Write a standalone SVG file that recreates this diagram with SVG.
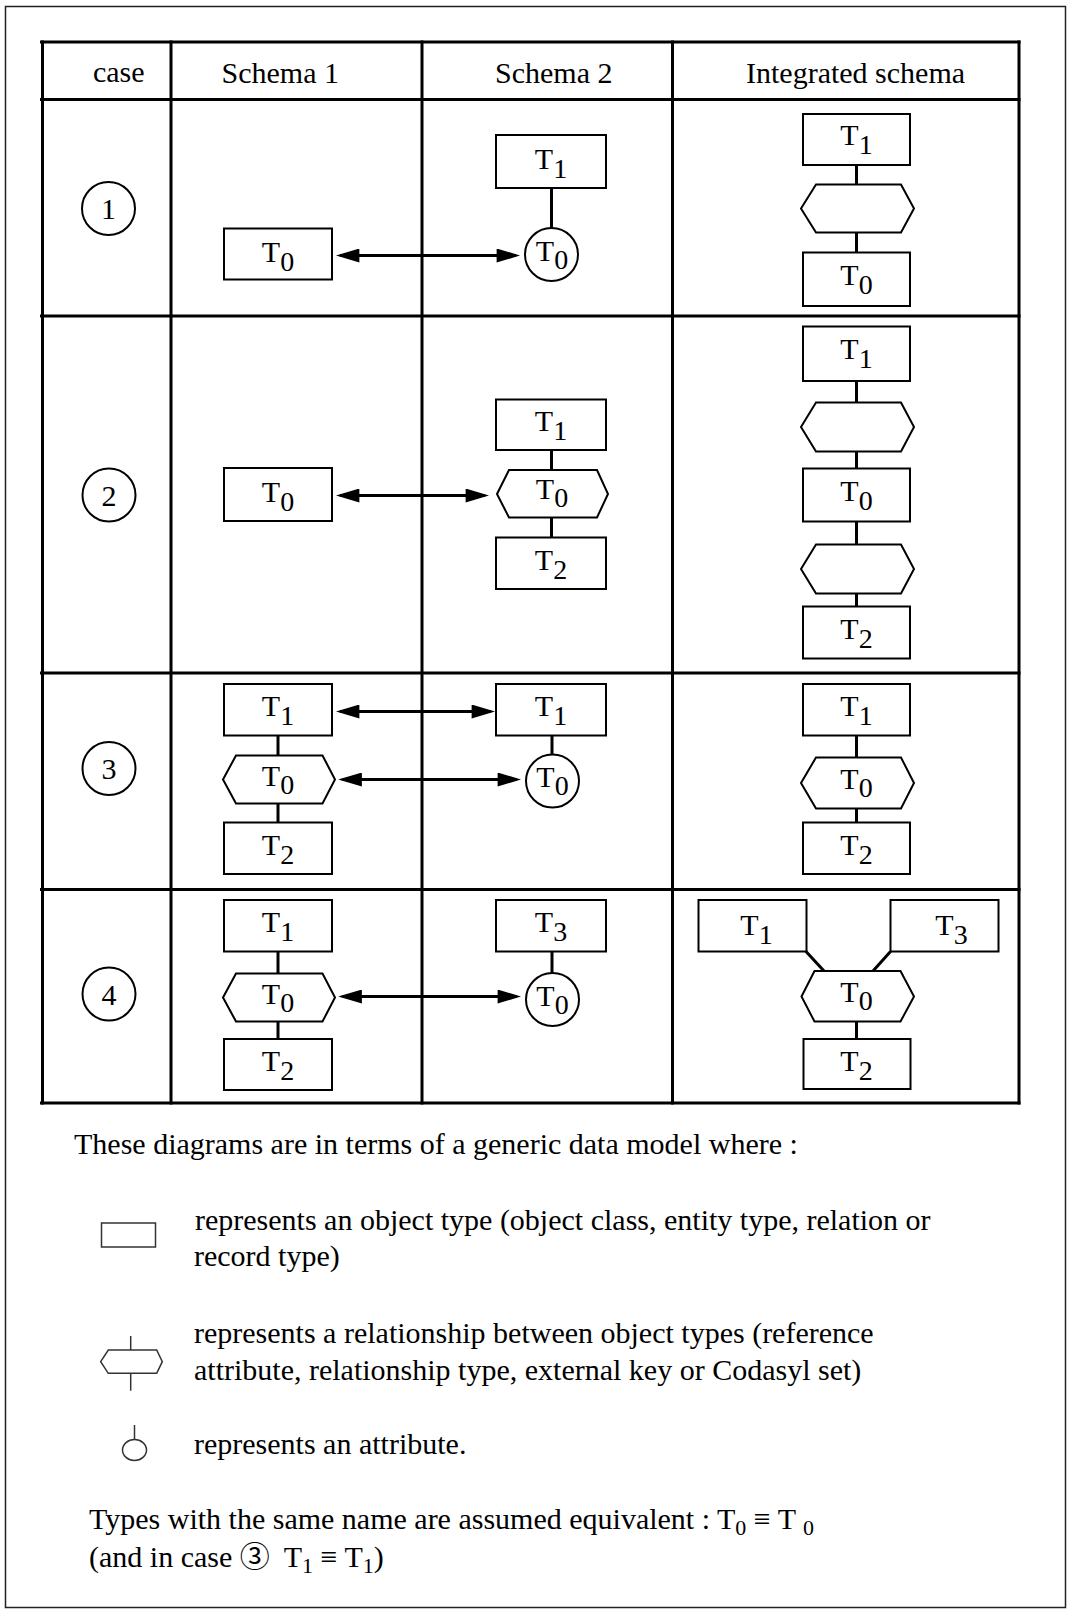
<svg xmlns="http://www.w3.org/2000/svg" width="1068" height="1610" viewBox="0 0 1068 1610">
<style>
  text { font-family: "Liberation Serif", "Times New Roman", "Noto Sans CJK JP", serif; font-size: 30px; fill: #000; }
  .sub { font-size: 28px; }
  .lsub { font-size: 22px; }
  .box { fill: #fff; stroke: #000; stroke-width: 2; }
  .grid { stroke: #000; stroke-width: 3; fill: none; }
  .conn { stroke: #000; stroke-width: 3; fill: none; }
  .arrow { stroke: #000; stroke-width: 3; fill: none; marker-start: url(#ah); marker-end: url(#ah); }
  .num { fill: #fff; stroke: #000; stroke-width: 2; }
  .leg { fill: none; stroke: #333; stroke-width: 1.5; }
</style>
<defs>
  <marker id="ah" markerUnits="userSpaceOnUse" markerWidth="24" markerHeight="14" viewBox="0 0 22 13" refX="18" refY="6.5" orient="auto-start-reverse">
    <path d="M0,0 L22,6.5 L0,13 z" fill="#000"/>
  </marker>
</defs>
<rect width="1068" height="1610" fill="#fff"/>
<rect x="5.5" y="6.5" width="1060" height="1601" fill="none" stroke="#222" stroke-width="1.5"/>

<g id="table">
  <line class="grid" x1="40" y1="42" x2="1020.5" y2="42"/>
  <line class="grid" x1="40" y1="99.5" x2="1020.5" y2="99.5"/>
  <line class="grid" x1="40" y1="316" x2="1020.5" y2="316"/>
  <line class="grid" x1="40" y1="673" x2="1020.5" y2="673"/>
  <line class="grid" x1="40" y1="889.5" x2="1020.5" y2="889.5"/>
  <line class="grid" x1="40" y1="1103" x2="1020.5" y2="1103"/>
  <line class="grid" x1="42.5" y1="40.5" x2="42.5" y2="1104.5"/>
  <line class="grid" x1="171" y1="40.5" x2="171" y2="1104.5"/>
  <line class="grid" x1="422" y1="40.5" x2="422" y2="1104.5"/>
  <line class="grid" x1="672.5" y1="40.5" x2="672.5" y2="1104.5"/>
  <line class="grid" x1="1019" y1="40.5" x2="1019" y2="1104.5"/>
  <text x="118.8" y="82" text-anchor="middle">case</text>
  <text x="221.5" y="82.5">Schema 1</text>
  <text x="495" y="82.5">Schema 2</text>
  <text x="746" y="82.5">Integrated schema</text>
</g>

<g id="connectors">
  <!-- row 1 -->
  <line class="arrow" x1="340" y1="255.5" x2="516" y2="255.5"/>
  <line class="conn" x1="551.5" y1="188" x2="551.5" y2="228.5"/>
  <line class="conn" x1="856.5" y1="165" x2="856.5" y2="184.5"/>
  <line class="conn" x1="856.5" y1="232.5" x2="856.5" y2="252.5"/>
  <!-- row 2 -->
  <line class="arrow" x1="340" y1="495.5" x2="485" y2="495.5"/>
  <line class="conn" x1="551.5" y1="450" x2="551.5" y2="470"/>
  <line class="conn" x1="551.5" y1="517.5" x2="551.5" y2="537.5"/>
  <line class="conn" x1="856.5" y1="381" x2="856.5" y2="402.5"/>
  <line class="conn" x1="856.5" y1="451.5" x2="856.5" y2="468.5"/>
  <line class="conn" x1="856.5" y1="521.5" x2="856.5" y2="544.5"/>
  <line class="conn" x1="856.5" y1="593.5" x2="856.5" y2="606.5"/>
  <!-- row 3 -->
  <line class="arrow" x1="340" y1="711.5" x2="491" y2="711.5"/>
  <line class="arrow" x1="342.5" y1="779.5" x2="517" y2="779.5"/>
  <line class="conn" x1="278" y1="735.5" x2="278" y2="755.5"/>
  <line class="conn" x1="278" y1="803.5" x2="278" y2="822.5"/>
  <line class="conn" x1="552" y1="735.5" x2="552" y2="754.5"/>
  <line class="conn" x1="856.5" y1="735.5" x2="856.5" y2="757.5"/>
  <line class="conn" x1="856.5" y1="808.5" x2="856.5" y2="822.5"/>
  <!-- row 4 -->
  <line class="arrow" x1="342.5" y1="996.5" x2="517" y2="996.5"/>
  <line class="conn" x1="278" y1="951.5" x2="278" y2="973.5"/>
  <line class="conn" x1="278" y1="1021.5" x2="278" y2="1039"/>
  <line class="conn" x1="552" y1="951.5" x2="552" y2="973"/>
  <line class="conn" x1="806" y1="951.5" x2="824" y2="971" stroke-width="3.5"/>
  <line class="conn" x1="890.5" y1="951.5" x2="873" y2="971" stroke-width="3.5"/>
  <line class="conn" x1="856.5" y1="1021.5" x2="856.5" y2="1039"/>
</g>

<!-- case numbers -->
<g id="case1"><circle class="num" cx="108.5" cy="208.5" r="26.5"/><text x="108.5" y="219" text-anchor="middle">1</text></g>
<g id="case2"><circle class="num" cx="109" cy="495" r="26.5"/><text x="109" y="505.5" text-anchor="middle">2</text></g>
<g id="case3"><circle class="num" cx="109" cy="768.5" r="26.5"/><text x="109" y="779" text-anchor="middle">3</text></g>
<g id="case4"><circle class="num" cx="109" cy="994" r="26.5"/><text x="109" y="1004.5" text-anchor="middle">4</text></g>

<!-- row 1 -->
<g id="r1-s1-T0"><rect class="box" x="224" y="228.5" width="108" height="51"/><text x="278" y="261.5" text-anchor="middle">T<tspan class="sub" dy="9">0</tspan></text></g>
<g id="r1-s2-T1"><rect class="box" x="496" y="135" width="110" height="53"/><text x="551" y="168.5" text-anchor="middle">T<tspan class="sub" dy="9">1</tspan></text></g>
<g id="r1-s2-T0"><circle class="box" cx="551.5" cy="254.5" r="26.5"/><text x="552" y="261" text-anchor="middle">T<tspan class="sub" dy="8">0</tspan></text></g>
<g id="r1-i-T1"><rect class="box" x="803" y="114" width="107" height="51"/><text x="856.5" y="145" text-anchor="middle">T<tspan class="sub" dy="9">1</tspan></text></g>
<g id="r1-i-rel"><polygon class="box" points="801,208.5 816,184.5 901,184.5 914,208.5 901,232.5 816,232.5"/></g>
<g id="r1-i-T0"><rect class="box" x="803" y="252.5" width="107" height="53.5"/><text x="856.5" y="285" text-anchor="middle">T<tspan class="sub" dy="9">0</tspan></text></g>

<!-- row 2 -->
<g id="r2-s1-T0"><rect class="box" x="224" y="468" width="108" height="53"/><text x="278" y="501.5" text-anchor="middle">T<tspan class="sub" dy="9">0</tspan></text></g>
<g id="r2-s2-T1"><rect class="box" x="496" y="399.5" width="110" height="50.5"/><text x="551" y="431" text-anchor="middle">T<tspan class="sub" dy="9">1</tspan></text></g>
<g id="r2-s2-T0"><polygon class="box" points="497,494 509,470 597,470 608,494 597,517.5 509,517.5"/><text x="552" y="499" text-anchor="middle">T<tspan class="sub" dy="8">0</tspan></text></g>
<g id="r2-s2-T2"><rect class="box" x="496" y="537.5" width="110" height="51.5"/><text x="551" y="569.5" text-anchor="middle">T<tspan class="sub" dy="9">2</tspan></text></g>
<g id="r2-i-T1"><rect class="box" x="803" y="326.5" width="107" height="54.5"/><text x="856.5" y="359" text-anchor="middle">T<tspan class="sub" dy="9">1</tspan></text></g>
<g id="r2-i-rel1"><polygon class="box" points="801,427 816,402.5 901,402.5 914,427 901,451.5 816,451.5"/></g>
<g id="r2-i-T0"><rect class="box" x="803" y="468.5" width="107" height="53"/><text x="856.5" y="501" text-anchor="middle">T<tspan class="sub" dy="9">0</tspan></text></g>
<g id="r2-i-rel2"><polygon class="box" points="801,569 816,544.5 901,544.5 914,569 901,593.5 816,593.5"/></g>
<g id="r2-i-T2"><rect class="box" x="803" y="606.5" width="107" height="52"/><text x="856.5" y="638.5" text-anchor="middle">T<tspan class="sub" dy="9">2</tspan></text></g>

<!-- row 3 -->
<g id="r3-s1-T1"><rect class="box" x="224" y="684" width="108" height="51.5"/><text x="278" y="716" text-anchor="middle">T<tspan class="sub" dy="9">1</tspan></text></g>
<g id="r3-s1-T0"><polygon class="box" points="223,779.5 236,755.5 322.5,755.5 335,779.5 322.5,803.5 236,803.5"/><text x="278" y="785.5" text-anchor="middle">T<tspan class="sub" dy="8">0</tspan></text></g>
<g id="r3-s1-T2"><rect class="box" x="224" y="822.5" width="108" height="51.5"/><text x="278" y="854.5" text-anchor="middle">T<tspan class="sub" dy="9">2</tspan></text></g>
<g id="r3-s2-T1"><rect class="box" x="496" y="684" width="110" height="51.5"/><text x="551" y="716" text-anchor="middle">T<tspan class="sub" dy="9">1</tspan></text></g>
<g id="r3-s2-T0"><circle class="box" cx="552.5" cy="781" r="26.5"/><text x="552.5" y="787" text-anchor="middle">T<tspan class="sub" dy="8">0</tspan></text></g>
<g id="r3-i-T1"><rect class="box" x="803" y="684" width="107" height="51.5"/><text x="856.5" y="715.5" text-anchor="middle">T<tspan class="sub" dy="9">1</tspan></text></g>
<g id="r3-i-T0"><polygon class="box" points="801,783 816,757.5 901,757.5 914,783 901,808.5 816,808.5"/><text x="856.5" y="788.5" text-anchor="middle">T<tspan class="sub" dy="8">0</tspan></text></g>
<g id="r3-i-T2"><rect class="box" x="803" y="822.5" width="107" height="51.5"/><text x="856.5" y="854.5" text-anchor="middle">T<tspan class="sub" dy="9">2</tspan></text></g>

<!-- row 4 -->
<g id="r4-s1-T1"><rect class="box" x="224" y="900" width="108" height="51.5"/><text x="278" y="932" text-anchor="middle">T<tspan class="sub" dy="9">1</tspan></text></g>
<g id="r4-s1-T0"><polygon class="box" points="223,997.5 236,973.5 322.5,973.5 335,997.5 322.5,1021.5 236,1021.5"/><text x="278" y="1003.5" text-anchor="middle">T<tspan class="sub" dy="8">0</tspan></text></g>
<g id="r4-s1-T2"><rect class="box" x="224" y="1039" width="108" height="51"/><text x="278" y="1071" text-anchor="middle">T<tspan class="sub" dy="9">2</tspan></text></g>
<g id="r4-s2-T3"><rect class="box" x="496" y="900" width="110" height="51.5"/><text x="551" y="932" text-anchor="middle">T<tspan class="sub" dy="9">3</tspan></text></g>
<g id="r4-s2-T0"><circle class="box" cx="552.5" cy="999.5" r="26.5"/><text x="552.5" y="1005.5" text-anchor="middle">T<tspan class="sub" dy="8">0</tspan></text></g>
<g id="r4-i-T1"><rect class="box" x="698.5" y="900" width="108" height="51.5"/><text x="756.5" y="934.5" text-anchor="middle">T<tspan class="sub" dy="9">1</tspan></text></g>
<g id="r4-i-T3"><rect class="box" x="890.5" y="900" width="108" height="51.5"/><text x="951.5" y="934.5" text-anchor="middle">T<tspan class="sub" dy="9">3</tspan></text></g>
<g id="r4-i-T0"><polygon class="box" points="801.5,996.5 814.5,971 900.5,971 914,996.5 900.5,1021.5 814.5,1021.5"/><text x="856.5" y="1002" text-anchor="middle">T<tspan class="sub" dy="8">0</tspan></text></g>
<g id="r4-i-T2"><rect class="box" x="803.5" y="1039" width="107" height="50"/><text x="856.5" y="1070.5" text-anchor="middle">T<tspan class="sub" dy="9">2</tspan></text></g>

<!-- legend -->
<g id="legend">
  <text x="74" y="1154">These diagrams are in terms of a generic data model where :</text>
  <rect class="leg" x="101.5" y="1223" width="54" height="24"/>
  <text x="195" y="1230">represents an object type (object class, entity type, relation or</text>
  <text x="194" y="1265.5">record type)</text>
  <line class="leg" x1="130.7" y1="1336" x2="130.7" y2="1350"/>
  <polygon class="leg" points="100.7,1361.7 108.3,1350 156.7,1350 162.3,1361.7 156.7,1373.3 108.3,1373.3"/>
  <line class="leg" x1="130.7" y1="1373.3" x2="130.7" y2="1390.7"/>
  <text x="194" y="1343">represents a relationship between object types (reference</text>
  <text x="194" y="1380">attribute, relationship type, external key or Codasyl set)</text>
  <line class="leg" x1="134.5" y1="1425" x2="134.5" y2="1439.5"/>
  <ellipse class="leg" cx="134.5" cy="1450" rx="12" ry="10.5"/>
  <text x="194" y="1454">represents an attribute.</text>
  <text x="89" y="1529">Types with the same name are assumed equivalent : T<tspan class="lsub" dy="6">0</tspan><tspan dy="-6"> ≡ T </tspan><tspan class="lsub" dy="6">0</tspan></text>
  <text x="89" y="1567">(and in case ③<tspan dx="14">T</tspan><tspan class="lsub" dy="6">1</tspan><tspan dy="-6"> ≡ T</tspan><tspan class="lsub" dy="6">1</tspan><tspan dy="-6">)</tspan></text>
</g>
</svg>
